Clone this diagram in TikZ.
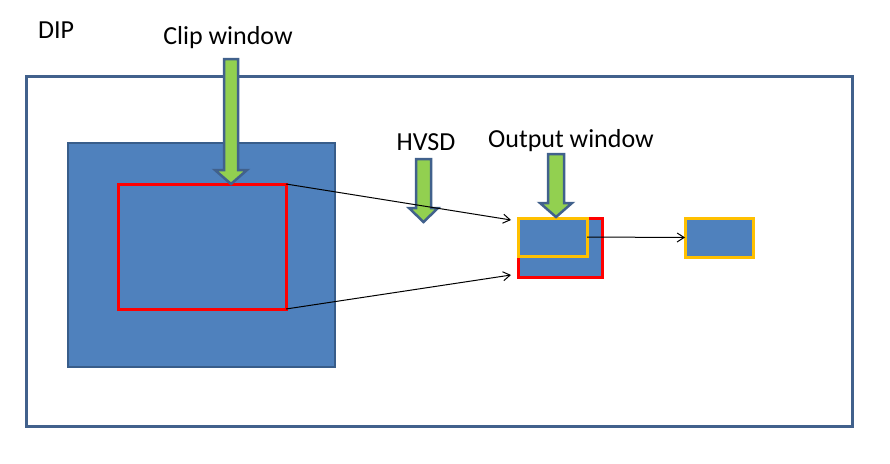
\documentclass[tikz,border=0pt]{standalone}
\usepackage{fontspec}
\setmainfont{Carlito}
\usetikzlibrary{arrows.meta}
\definecolor{frameblue}{HTML}{41618C}
\definecolor{fillblue}{HTML}{4F81BD}
\definecolor{edgeblue}{HTML}{385D8A}
\definecolor{leafgreen}{HTML}{92D050}
\definecolor{winorange}{HTML}{FFC000}
\definecolor{winred}{HTML}{FF0000}
\tikzset{
  lbl/.style={font=\fontsize{26}{30}\selectfont, anchor=base, inner sep=0pt},
  box/.style={draw, rectangle, inner sep=0pt, outer sep=0pt},
  bluebox/.style={box, fill=fillblue, draw=edgeblue, line width=2pt},
  redwin/.style={box, draw=winred, line width=3pt},
  orangewin/.style={box, fill=fillblue, draw=winorange, line width=3pt},
  blockarrow/.style={fill=leafgreen, draw=frameblue, line width=2.5pt, line join=miter},
  conn/.style={draw=black, line width=1pt, -{Straight Barb[length=7pt,width=9pt]}}
}
\begin{document}
\begin{tikzpicture}[x=1pt,y=-1pt]
\useasboundingbox (0,0) rectangle (890,463);
\fill[white] (0,0) rectangle (890,463);
% outer DIP frame
\node[box, draw=frameblue, line width=3pt, minimum width=826pt, minimum height=350pt] (dip) at (439,251) {};
\node[lbl] (diplbl) at (56,38) {DIP};
% big source image
\node[bluebox, minimum width=267pt, minimum height=224pt] (src) at (201.5,255) {};
% clip window
\node[redwin, minimum width=168pt, minimum height=125pt] (clip) at (202,246.5) {};
% output image
\node[bluebox, draw=winred, line width=3pt, minimum width=84pt, minimum height=59pt] (outred) at (560,247.5) {};
\node[orangewin, minimum width=69pt, minimum height=38pt] (outwin) at (552.5,237) {};
% final output
\node[orangewin, minimum width=68pt, minimum height=39pt] (final) at (719,237.5) {};
% labels
\node[lbl] (cliplbl) at (228,44.5) {Clip window};
\node[lbl] (hvsdlbl) at (426,150) {HVSD};
\node[lbl] (outlbl) at (571,147) {Output window};
% block arrows
\draw[blockarrow] (224,59) -- (238,59) -- (238,170) -- (247,170) -- (231,184) -- (215,170) -- (224,170) -- cycle;
\draw[blockarrow] (416,159) -- (431,159) -- (431,208) -- (438,208) -- (423.5,222) -- (409,208) -- (416,208) -- cycle;
\draw[blockarrow] (548,154) -- (564,154) -- (564,203) -- (572,203) -- (556,217) -- (540,203) -- (548,203) -- cycle;
% connectors
\coordinate (e1) at (511,220);
\coordinate (e2) at (511,275);
\draw[conn] (clip.north east) -- (e1);
\draw[conn] (clip.south east) -- (e2);
\draw[conn] (outwin.east) -- (final.west);
\end{tikzpicture}
\end{document}
